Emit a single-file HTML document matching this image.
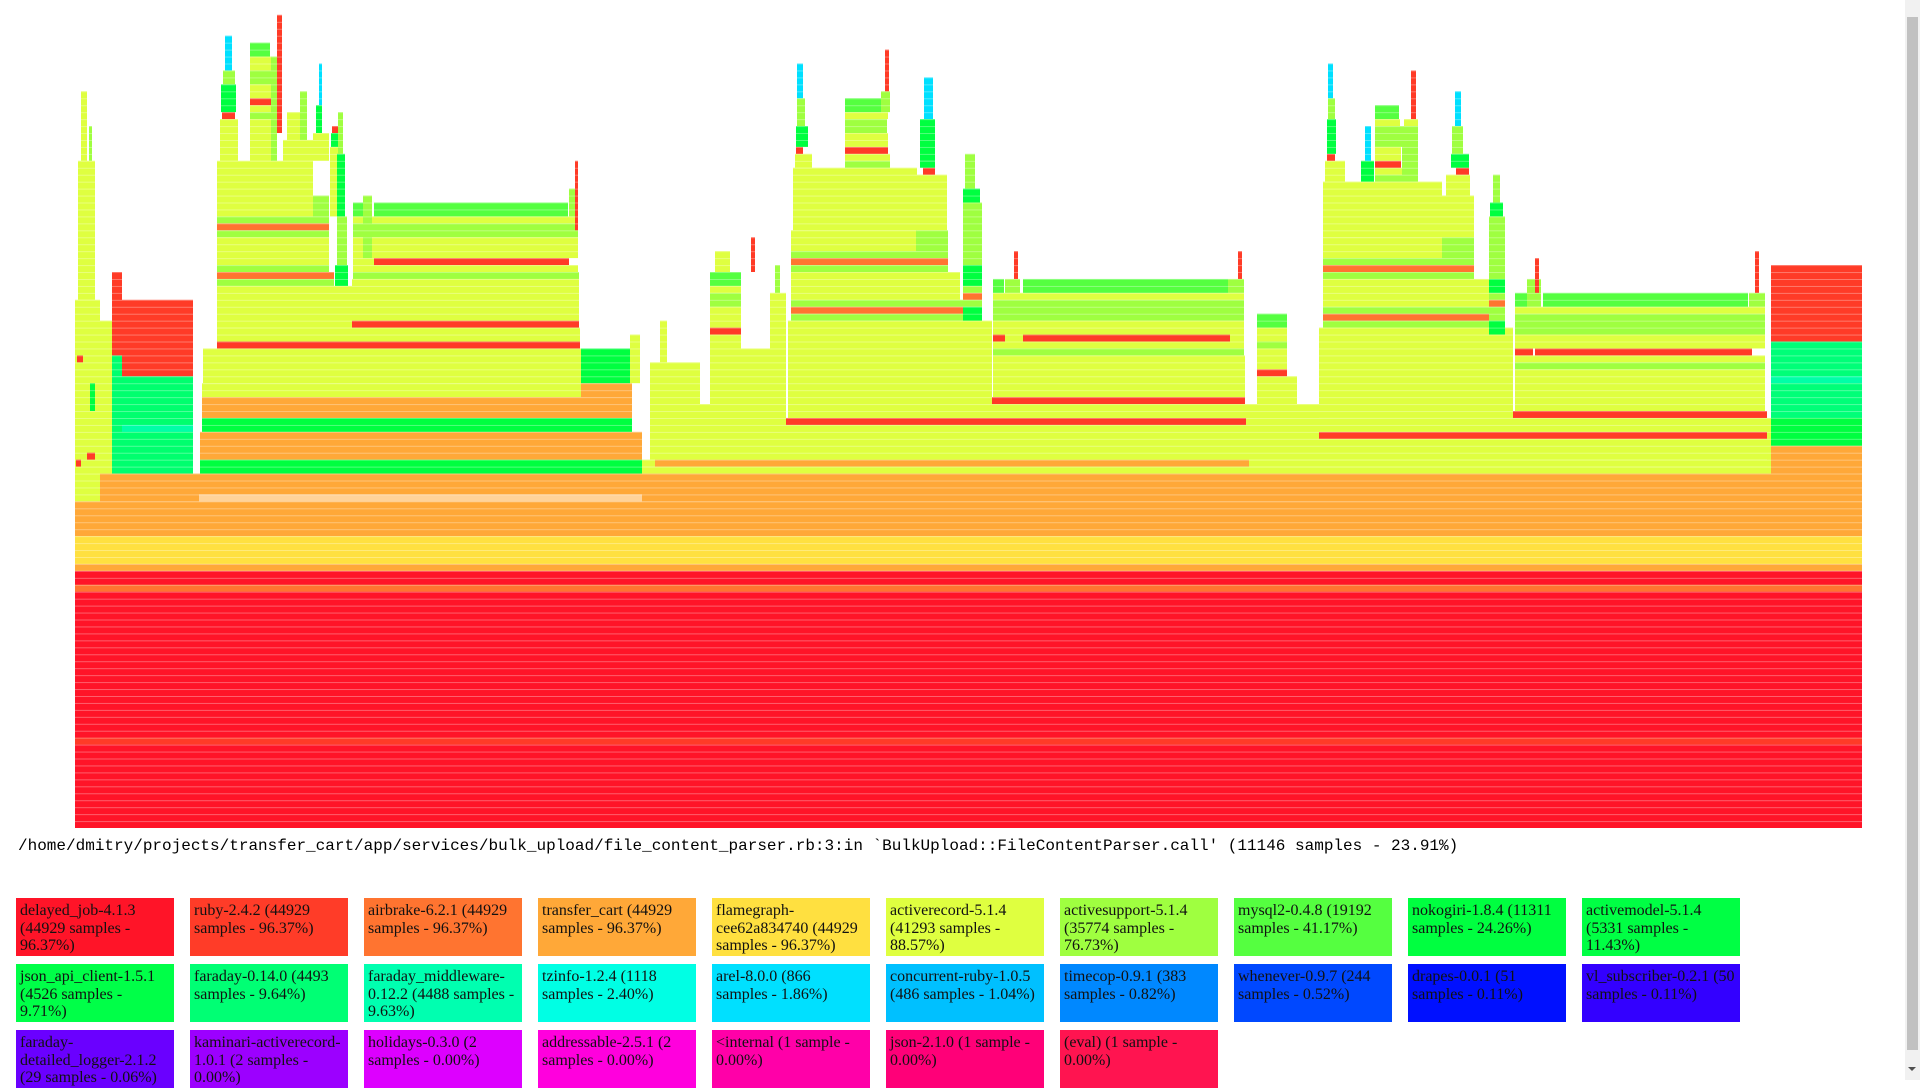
<!DOCTYPE html>
<html>
<head>
<meta charset="utf-8">
<style>
  html,body{margin:0;padding:0;width:1920px;height:1080px;overflow:hidden;background:#fff;}
  #chart{position:absolute;left:0;top:0;}
  #path-label{position:absolute;left:18px;top:836px;font-family:"Liberation Mono",monospace;font-size:16px;line-height:20px;color:#000;white-space:nowrap;}
  .lg{position:absolute;width:150px;height:50px;padding:4px;font-family:"Liberation Serif",serif;font-size:16px;line-height:17.7px;color:#111;overflow:hidden;word-wrap:break-word;}
  #scroll-track{position:absolute;left:1905px;top:0;width:15px;height:1080px;background:#f1f1f1;}
  #scroll-thumb{position:absolute;left:2px;top:17px;width:11px;height:1033px;background:#c1c1c1;}
  #scroll-down{position:absolute;left:3px;top:1067px;width:0;height:0;border-left:4px solid transparent;border-right:4px solid transparent;border-top:4px solid #505050;}
</style>
</head>
<body>
<svg id="chart" width="1900" height="830" xmlns="http://www.w3.org/2000/svg">
  <defs>
    <pattern id="rowsep" patternUnits="userSpaceOnUse" x="0" y="1" width="10" height="6.95">
      <rect x="0" y="0" width="10" height="0.9" fill="#ffffff" fill-opacity="0.35"></rect>
    </pattern>
  </defs>
  <g id="frames"></g>
  <rect x="75" y="10" width="1787" height="818" fill="url(#rowsep)"></rect>
</svg>

<div id="path-label">/home/dmitry/projects/transfer_cart/app/services/bulk_upload/file_content_parser.rb:3:in `BulkUpload::FileContentParser.call' (11146 samples - 23.91%)</div>

<div id="legend"></div>

<div id="scroll-track"><div id="scroll-thumb"></div><div id="scroll-down"></div></div>

<script>
// ---- data (x in sample units out of TOTAL_UNITS, depth = stack level from bottom) ----
const TOTAL_UNITS = 1787;
const MAX_DEPTH_ROWS = 117;

const baseFrames = [
  [0,1787,0,36,'RD'],[0,1787,12,12,'RB'],[0,1787,34,34,'AB'],
  [0,1787,37,37,'TC'],[0,1787,38,41,'FG'],[0,1787,42,46,'TC'],
  [567,1787,47,50,'TC'],[567,1696,51,51,'AR'],[567,1696,52,52,'AR'],[580,1174,52,52,'TC'],[1692,1696,52,58,'AR']
];

const leftFrames = [
  [0,25,47,75,'AR'],[3,20,76,95,'AR'],[6,12,96,105,'AR'],[14,17,96,100,'AS'],
  [2,8,67,67,'RB'],[12,20,53,53,'RB'],[15,20,60,63,'NK'],[1,6,52,52,'RB'],
  [25,124,47,50,'TC'],[25,37,51,72,'AR'],[37,118,51,64,'JA'],[47,118,57,57,'FM'],
  [37,47,65,67,'JA'],[37,47,68,79,'RB'],[47,118,65,75,'RB']
];

const towerAFrames = [
  [124,567,47,47,'PE'],[124,567,48,50,'TC'],[125,567,51,52,'NK'],[125,567,53,56,'TC'],
  [127,557,57,58,'NK'],[127,557,59,61,'TC'],[127,506,62,63,'AR'],[506,557,62,63,'TC'],
  [128,506,64,68,'AR'],[506,555,64,68,'NK'],[555,565,64,70,'AR'],
  [142,505,69,69,'RB'],[142,505,70,71,'AR'],[142,277,72,77,'AR'],[277,504,72,72,'RB'],[277,504,73,78,'AR'],
  [142,259,78,78,'AS'],[260,273,78,80,'NK'],[142,259,79,79,'AB'],[278,504,79,79,'AS'],
  [142,254,80,80,'AS'],[142,254,81,84,'AR'],[142,254,85,85,'AS'],[142,254,86,86,'AB'],[142,254,87,87,'AS'],
  [142,238,88,95,'AR'],[238,254,88,90,'AS'],
  [278,503,80,80,'AR'],[278,299,81,81,'AR'],[299,494,81,81,'RB'],[278,503,82,84,'AR'],[278,503,85,86,'AS'],
  [278,503,87,87,'AR'],[299,493,88,89,'MY'],[278,288,88,89,'MY'],[288,297,82,90,'AS'],
  [494,503,88,91,'AS'],[500,503,86,95,'RB'],
  [145,163,96,101,'AR'],[147,160,102,102,'RB'],[146,161,103,106,'NK'],[148,160,107,108,'AS'],[150,157,109,113,'CY'],
  [175,197,96,101,'AR'],[175,197,102,102,'AS'],[175,197,103,103,'AR'],[175,196,104,104,'RB'],[175,197,105,106,'AR'],
  [175,197,107,108,'AS'],[175,197,109,110,'AR'],[175,195,111,112,'MY'],
  [196,202,96,110,'AS'],[202,207,100,116,'RB'],
  [208,238,96,98,'AR'],[212,225,99,102,'AR'],[225,232,99,105,'AS'],
  [238,254,96,99,'AR'],[241,247,100,103,'NK'],[244,247,104,109,'CY'],
  [255,265,88,97,'AR'],[256,264,98,99,'NK'],[257,263,100,100,'RB'],
  [262,272,81,87,'AS'],[262,270,88,96,'NK'],[263,268,97,102,'AS']
];

const gapFrames = [
  [575,711,53,60,'AR'],[575,625,61,66,'AR'],[585,592,67,72,'AR'],
  [635,666,61,70,'AR'],[635,666,71,71,'RB'],[635,666,72,74,'AR'],[635,666,75,76,'AS'],[635,666,77,77,'AR'],[635,666,78,79,'MY'],
  [640,655,80,82,'AR'],[676,680,80,84,'RB'],[666,700,61,68,'AR'],[695,711,61,76,'AR'],[700,705,77,80,'AS'],
  [1171,1244,53,60,'AR'],[1182,1222,61,64,'AR'],[1182,1212,65,65,'RB'],[1182,1212,66,71,'AR'],[1182,1212,69,69,'AS'],[1182,1212,72,73,'MY']
];

const towerBFrames = [
  [711,1171,53,57,'AR'],[711,1171,58,58,'RB'],[713,1171,59,60,'AR'],[713,917,61,72,'AR'],
  [917,1170,61,61,'RB'],[918,1170,62,67,'AR'],[918,1169,68,68,'AS'],[918,1169,69,69,'AR'],
  [918,1169,70,70,'AR'],[948,1155,70,70,'RB'],[918,930,70,70,'RB'],[918,1169,71,72,'AR'],[918,1169,73,75,'AS'],[918,1169,76,76,'AR'],
  [948,1153,77,78,'MY'],[918,929,77,78,'MY'],[930,945,77,78,'AS'],[939,943,79,82,'RB'],[1153,1169,77,78,'AS'],[1163,1167,79,82,'RB'],
  [716,888,73,73,'AS'],[716,888,74,74,'AB'],[716,888,75,75,'AS'],[716,885,76,79,'AR'],
  [716,873,80,80,'AS'],[716,873,81,81,'AB'],[716,873,82,82,'AS'],[716,841,83,85,'AR'],[841,873,83,85,'AS'],
  [718,842,86,94,'AR'],[841,872,86,93,'AR'],
  [888,907,70,72,'AR'],[888,907,73,74,'NK'],[888,907,75,75,'AS'],[888,907,76,76,'AB'],[888,907,77,77,'AS'],
  [888,907,78,80,'NK'],[888,907,81,89,'AS'],[888,905,90,91,'NK'],[890,900,92,96,'AS'],
  [770,815,95,95,'AS'],[770,815,96,96,'AR'],[770,813,97,97,'RB'],[770,813,98,99,'AR'],[770,812,100,101,'AS'],
  [770,813,102,102,'AR'],[770,806,103,104,'MY'],[806,815,103,105,'AS'],[810,814,106,111,'RB'],
  [720,737,95,96,'AR'],[721,728,97,97,'RB'],[721,733,98,100,'NK'],[722,730,101,104,'AS'],[722,728,105,109,'CY'],
  [848,860,94,94,'RB'],[845,860,95,95,'NK'],[845,860,96,101,'NK'],[849,858,102,107,'CY']
];

const towerCFrames = [
  [1244,1692,53,55,'AR'],[1244,1692,56,56,'RB'],[1244,1692,57,58,'AR'],
  [1438,1692,59,59,'RB'],[1244,1438,59,71,'AR'],
  [1440,1690,60,65,'AR'],[1440,1690,66,66,'AS'],[1440,1690,67,67,'AR'],[1460,1677,68,68,'RB'],[1440,1458,68,68,'RB'],
  [1440,1690,69,70,'AR'],[1440,1690,71,73,'AS'],[1440,1690,74,74,'AR'],[1468,1673,75,76,'MY'],[1440,1452,75,76,'MY'],
  [1452,1466,75,78,'AS'],[1460,1464,77,81,'RB'],[1674,1690,75,76,'AS'],[1680,1684,77,82,'RB'],
  [1248,1414,72,72,'AS'],[1248,1414,73,73,'AB'],[1248,1414,74,74,'AS'],[1248,1414,75,78,'AR'],
  [1248,1399,79,79,'AS'],[1248,1399,80,80,'AB'],[1248,1399,81,81,'AS'],[1248,1367,82,84,'AR'],[1367,1399,82,84,'AS'],
  [1248,1367,85,92,'AR'],[1367,1399,85,90,'AR'],
  [1414,1430,60,70,'AR'],[1414,1430,71,72,'NK'],[1414,1430,73,74,'AS'],[1414,1430,75,75,'AB'],[1414,1430,76,76,'AS'],
  [1414,1430,77,78,'NK'],[1414,1430,79,87,'AS'],[1415,1428,88,89,'NK'],[1418,1425,90,93,'AS'],
  [1300,1327,93,93,'AS'],[1300,1327,94,94,'AR'],[1300,1326,95,95,'RB'],[1300,1326,96,97,'AR'],[1300,1327,98,100,'AS'],
  [1300,1325,101,101,'AR'],[1300,1324,102,103,'MY'],[1327,1343,93,100,'AS'],[1329,1343,101,101,'AR'],[1336,1341,102,108,'RB'],
  [1250,1270,93,95,'AR'],[1252,1260,96,96,'RB'],[1252,1261,97,101,'NK'],[1253,1260,102,104,'AS'],[1253,1258,105,109,'CY'],
  [1286,1299,93,95,'NK'],[1290,1296,96,100,'CY'],
  [1371,1395,91,93,'AR'],[1381,1394,94,94,'RB'],[1376,1394,95,96,'NK'],[1377,1388,97,100,'AS'],[1380,1386,101,105,'CY']
];

const rightFrames = [
  [1696,1787,51,54,'TC'],[1696,1787,55,58,'NK'],[1696,1787,59,69,'FA'],[1696,1787,64,64,'FM'],[1696,1787,70,80,'RB']
];

const legendLabels = [
  "delayed_job-4.1.3 (44929 samples - 96.37%)","ruby-2.4.2 (44929 samples - 96.37%)","airbrake-6.2.1 (44929 samples - 96.37%)",
  "transfer_cart (44929 samples - 96.37%)","flamegraph-cee62a834740 (44929 samples - 96.37%)","activerecord-5.1.4 (41293 samples - 88.57%)",
  "activesupport-5.1.4 (35774 samples - 76.73%)","mysql2-0.4.8 (19192 samples - 41.17%)","nokogiri-1.8.4 (11311 samples - 24.26%)",
  "activemodel-5.1.4 (5331 samples - 11.43%)","json_api_client-1.5.1 (4526 samples - 9.71%)","faraday-0.14.0 (4493 samples - 9.64%)",
  "faraday_middleware-0.12.2 (4488 samples - 9.63%)","tzinfo-1.2.4 (1118 samples - 2.40%)","arel-8.0.0 (866 samples - 1.86%)",
  "concurrent-ruby-1.0.5 (486 samples - 1.04%)","timecop-0.9.1 (383 samples - 0.82%)","whenever-0.9.7 (244 samples - 0.52%)",
  "drapes-0.0.1 (51 samples - 0.11%)","vl_subscriber-0.2.1 (50 samples - 0.11%)","faraday-detailed_logger-2.1.2 (29 samples - 0.06%)",
  "kaminari-activerecord-1.0.1 (2 samples - 0.00%)","holidays-0.3.0 (2 samples - 0.00%)","addressable-2.5.1 (2 samples - 0.00%)",
  "<internal (1 sample - 0.00%)","json-2.1.0 (1 sample - 0.00%)","(eval) (1 sample - 0.00%)"
];
const legendColors = [
  "#ff1428","#ff3c28","#ff7430","#ffa838","#ffe040","#dfff40","#9fff40","#55ff40","#00ff40","#00ff44",
  "#00ff48","#00ff74","#00ffb0","#00ffe4","#00e0ff","#00c0ff","#0088ff","#0048ff","#0010ff","#3300ff",
  "#6a00ff","#9c00ff","#dd00ff","#ff00dd","#ff00a8","#ff0078","#ff1450"
];

// ---- rendering ----
const PALETTE = {RD:'#ff1428',RB:'#ff3b27',AB:'#ff7430',TC:'#ffa838',FG:'#ffe040',AR:'#dfff40',AS:'#9fff40',
  MY:'#55ff40',NK:'#00ff40',JA:'#00ff6e',FA:'#00ff78',FM:'#00ffa8',PE:'#ffd39a',CY:'#00e0ff'};
const PLOT_LEFT = 75, PLOT_WIDTH = 1787, PLOT_BOTTOM = 828, ROW_H = 6.95;
function xScale(u){ return PLOT_LEFT + u * PLOT_WIDTH / TOTAL_UNITS; }
function yTop(d){ return PLOT_BOTTOM - (d + 1) * ROW_H; }

const NS = 'http://www.w3.org/2000/svg';
const g = document.getElementById('frames');
function drawGroup(list, name){
  list.forEach(function(f){
    const r = document.createElementNS(NS, 'rect');
    const x0 = xScale(f[0]), x1 = xScale(f[1]);
    r.setAttribute('x', x0.toFixed(2));
    r.setAttribute('width', Math.max(0.5, x1 - x0).toFixed(2));
    r.setAttribute('y', yTop(f[3]).toFixed(2));
    r.setAttribute('height', ((f[3] - f[2] + 1) * ROW_H).toFixed(2));
    r.setAttribute('fill', PALETTE[f[4]]);
    
    
    g.appendChild(r);
  });
}
drawGroup(baseFrames, 'base-frame');
drawGroup(leftFrames, 'left-stack-frame');
drawGroup(gapFrames, 'middle-stack-frame');
drawGroup(towerAFrames, 'tower-a-frame');
drawGroup(towerBFrames, 'tower-b-frame');
drawGroup(towerCFrames, 'tower-c-frame');
drawGroup(rightFrames, 'right-stack-frame');

const legend = document.getElementById('legend');
legendLabels.forEach(function(label, i){
  const d = document.createElement('div');
  d.className = 'lg';
  d.style.left = (16 + (i % 10) * 174) + 'px';
  d.style.top = (898 + Math.floor(i / 10) * 66) + 'px';
  d.style.background = legendColors[i];
  d.textContent = label;
  
  
  legend.appendChild(d);
});
</script>
</body>
</html>
